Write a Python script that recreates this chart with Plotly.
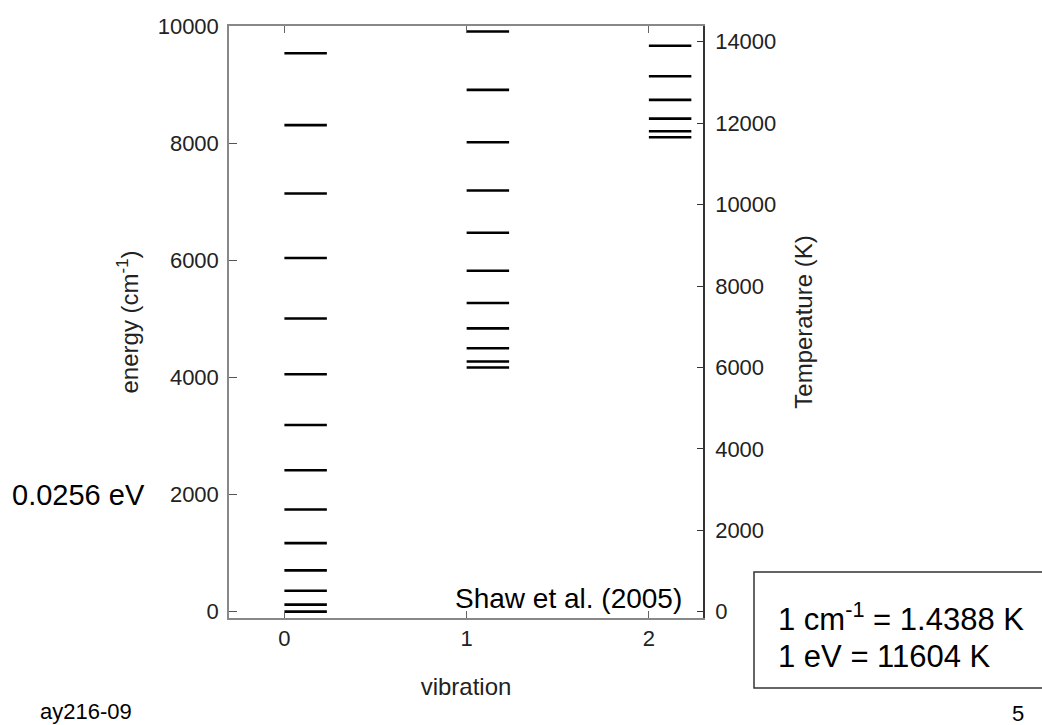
import plotly.graph_objects as go

# ---- data ----
vibrations = [0, 1, 2]
levels_v0 = [0, 120, 357, 706, 1170, 1745, 2415, 3188, 4055, 5005, 6040, 7140, 8307, 9535]
levels_v1 = [4170, 4272, 4499, 4838, 5270, 5820, 6470, 7190, 8015, 8910, 9906]
levels_v2 = [8100, 8203, 8418, 8738, 9143, 9662]
energy_ticks = [0, 2000, 4000, 6000, 8000, 10000]
temp_ticks = [0, 2000, 4000, 6000, 8000, 10000, 12000, 14000]
cm_to_K = 1.4388

BAR_W = 0.233
FONT = "Arial, Liberation Sans, sans-serif"

# plot-area geometry (pixels)
W, H = 1042, 725
L, R, T, B = 229, 703, 26, 618
E_MIN, E_MAX = -108, 10000
X_MIN, X_MAX = -0.304, 2.297


def px(xp):
    return (xp - L) / (R - L)


def py(yp):
    return (B - yp) / (B - T)


fig = go.Figure()

for v, lev in zip(vibrations, [levels_v0, levels_v1, levels_v2]):
    xs, ys = [], []
    for e in lev:
        xs += [v, v + BAR_W, None]
        ys += [e, e, None]
    fig.add_trace(go.Scatter(x=xs, y=ys, mode="lines",
                             line=dict(color="black", width=2.6),
                             showlegend=False, hoverinfo="skip"))

# invisible trace on the temperature axis
allK = [e * cm_to_K for e in levels_v0 + levels_v1 + levels_v2]
fig.add_trace(go.Scatter(x=[0] * len(allK), y=allK, yaxis="y2", mode="markers",
                         marker=dict(opacity=0), showlegend=False, hoverinfo="skip"))

tickfont = dict(family=FONT, size=22, color="#222")
titlefont = dict(family=FONT, size=24, color="#222")

fig.update_layout(
    width=W, height=H,
    margin=dict(l=L, r=W - R, t=T, b=H - B),
    paper_bgcolor="white", plot_bgcolor="white",
    xaxis=dict(range=[X_MIN, X_MAX], tickvals=vibrations,
               ticks="inside", ticklen=7, tickcolor="#666",
               showline=True, linecolor="#888", linewidth=1.5, mirror="ticks",
               showgrid=False, zeroline=False, tickfont=tickfont,
               title=dict(text="vibration", font=titlefont, standoff=28)),
    yaxis=dict(range=[E_MIN, E_MAX], tickvals=energy_ticks, tickformat="d",
               ticks="inside", ticklen=8, tickcolor="#555",
               showline=True, linecolor="#888", linewidth=1.5,
               showgrid=False, zeroline=False, tickfont=tickfont,
               ticklabelstandoff=4,
               title=dict(text="energy (cm<sup>-1</sup>)", font=titlefont, standoff=12)),
    yaxis2=dict(range=[E_MIN * cm_to_K, E_MAX * cm_to_K], tickvals=temp_ticks,
                tickformat="d",
                overlaying="y", side="right",
                ticks="inside", ticklen=6, tickcolor="#333",
                showline=True, linecolor="#333", linewidth=1.5,
                showgrid=False, zeroline=False, tickfont=tickfont,
                ticklabelstandoff=6,
                title=dict(text="Temperature (K)", font=titlefont, standoff=20)),
)

fig.add_annotation(text="0.0256 eV", xref="paper", yref="y", x=px(10), y=2000,
                   xanchor="left", yanchor="middle", showarrow=False,
                   font=dict(family=FONT, size=29, color="black"))
fig.add_annotation(text="Shaw et al. (2005)", xref="paper", yref="paper",
                   x=px(684), y=py(598), xanchor="right", yanchor="middle",
                   showarrow=False, font=dict(family=FONT, size=28, color="black"))

# conversion box
fig.add_shape(type="rect", xref="paper", yref="paper",
              x0=px(754), x1=px(1050), y0=py(688), y1=py(572),
              line=dict(color="#333", width=1.5), fillcolor="rgba(0,0,0,0)")
fig.add_annotation(text="1 cm<sup>-1</sup> = 1.4388 K", xref="paper", yref="paper",
                   x=px(776), y=py(617), xanchor="left", yanchor="middle",
                   showarrow=False, font=dict(family=FONT, size=31, color="black"))
fig.add_annotation(text="1 eV = 11604 K", xref="paper", yref="paper",
                   x=px(776), y=py(656), xanchor="left", yanchor="middle",
                   showarrow=False, font=dict(family=FONT, size=31, color="black"))

fig.add_annotation(text="ay216-09", xref="paper", yref="paper",
                   x=px(38), y=py(711), xanchor="left", yanchor="middle",
                   showarrow=False, font=dict(family=FONT, size=22, color="black"))
fig.add_annotation(text="5", xref="paper", yref="paper",
                   x=px(1010), y=py(713), xanchor="left", yanchor="middle",
                   showarrow=False, font=dict(family=FONT, size=22, color="black"))

fig.write_html("out.html")
